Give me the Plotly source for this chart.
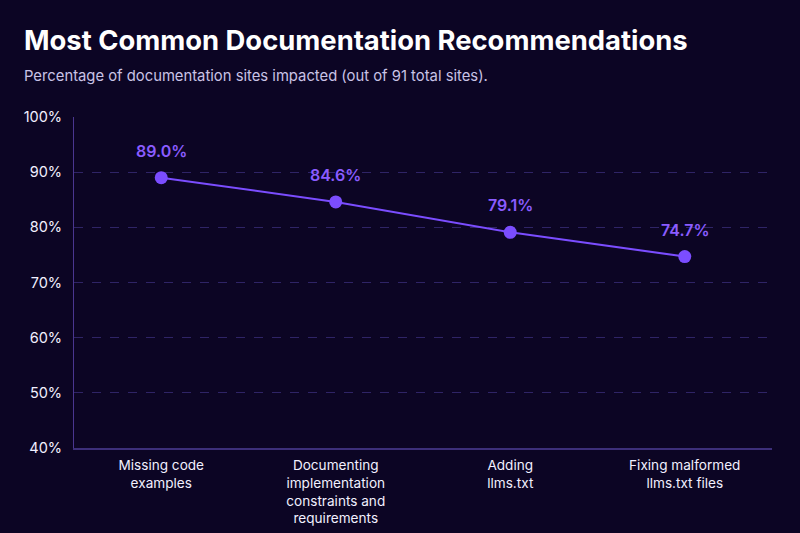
import plotly.graph_objects as go

categories = ["Missing code<br>examples",
              "Documenting<br>implementation<br>constraints and<br>requirements",
              "Adding<br>llms.txt",
              "Fixing malformed<br>llms.txt files"]
values = [89.0, 84.6, 79.1, 74.7]
y_ticks = [40, 50, 60, 70, 80, 90, 100]
y_tick_labels = [f"{v}%" for v in y_ticks]
labels = [f"{v:.1f}%" for v in values]

BG = "#0c0524"
PURPLE = "#7b4dff"
FONT = "Inter, Roboto, sans-serif"
L, R, T, B = 74, 28, 117, 85
PW, PH = 800 - L - R, 533 - T - B

fig = go.Figure()
fig.add_trace(go.Scatter(
    x=categories, y=values, mode="lines+markers",
    line=dict(color=PURPLE, width=2),
    marker=dict(color=PURPLE, size=13),
    cliponaxis=False, hoverinfo="skip",
))
for c, v, t in zip(categories, values, labels):
    fig.add_annotation(
        x=c, y=v, text=t, showarrow=False, yshift=27,
        font=dict(color="#8a5cff", size=16, family=FONT, weight=600),
    )

fig.update_layout(
    width=800, height=533,
    paper_bgcolor=BG, plot_bgcolor=BG,
    margin=dict(l=L, r=R, t=T, b=B, autoexpand=False),
    showlegend=False,
    font=dict(family=FONT, color="#ffffff"),
    xaxis=dict(
        range=[-0.5, 3.5], showgrid=False, showline=True, automargin=False,
        linecolor="#3d2f7a", linewidth=2, ticks="",
        tickfont=dict(size=13.6, color="#f2f0ff"), ticklabelstandoff=4,
        zeroline=False,
    ),
    yaxis=dict(
        range=[40, 100], tickvals=y_ticks, ticktext=y_tick_labels,
        automargin=False,
        showgrid=True, gridcolor="#2f2466", griddash="dash", gridwidth=1,
        showline=True, linecolor="#4a3690", linewidth=1,
        tickfont=dict(size=14.5, color="#f2f0ff"), ticks="", zeroline=False,
        ticklabelstandoff=8,
    ),
)

fig.add_annotation(
    text="<b>Most Common Documentation Recommendations</b>",
    xref="paper", yref="paper", x=-L / PW, xanchor="left",
    y=1 + (T - 40) / PH, yanchor="middle", showarrow=False,
    xshift=22,
    font=dict(size=27.4, color="#ffffff", family=FONT),
)
fig.add_annotation(
    text="Percentage of documentation sites impacted (out of 91 total sites).",
    xref="paper", yref="paper", x=-L / PW, xanchor="left",
    y=1 + (T - 76) / PH, yanchor="middle", showarrow=False,
    xshift=22,
    font=dict(size=14.8, color="#c9c3e6", family=FONT),
)

fig.write_html("out.html")
